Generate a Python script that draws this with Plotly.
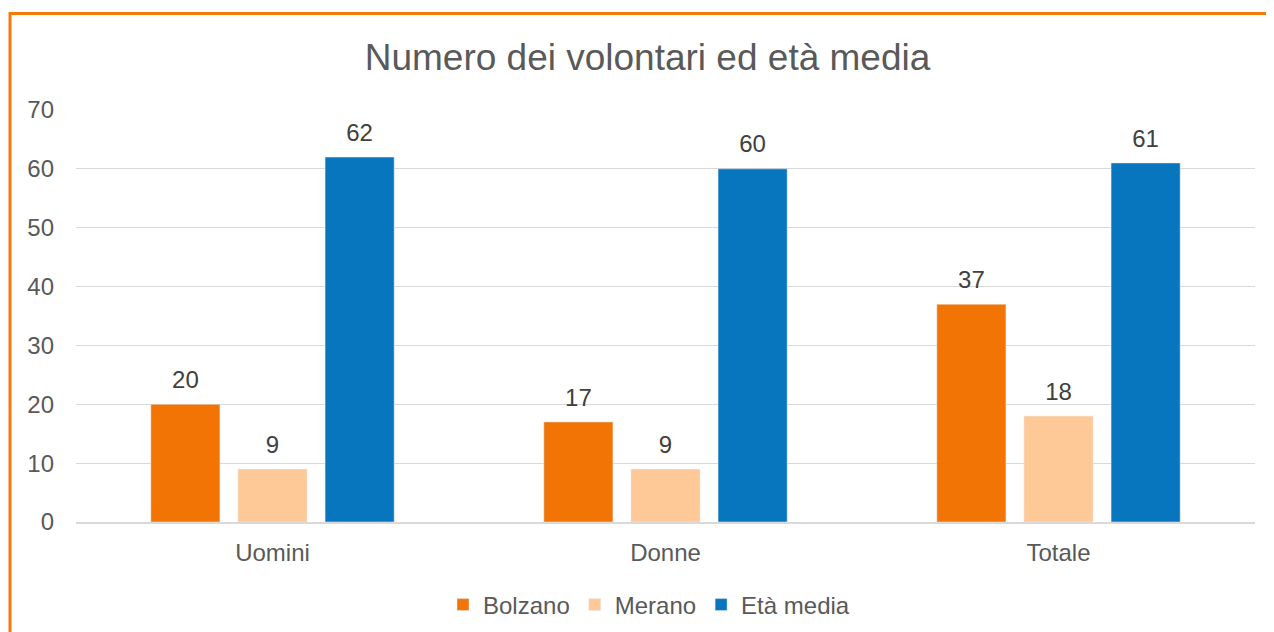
import plotly.graph_objects as go

categories = ["Uomini", "Donne", "Totale"]
bolzano = [20, 17, 37]
merano = [9, 9, 18]
eta_media = [62, 60, 61]

series = [
    ("Bolzano", bolzano, "#F27405"),
    ("Merano", merano, "#FFC897"),
    ("Età media", eta_media, "#0876BF"),
]

fig = go.Figure()
for name, vals, color in series:
    fig.add_trace(go.Bar(
        x=categories,
        y=vals,
        name=name,
        marker_color=color,
        offsetgroup=name,
    ))
    # value labels, placed by an invisible marker so the gap above the bar matches
    fig.add_trace(go.Scatter(
        x=categories,
        y=vals,
        mode="markers+text",
        marker={'size': 15, 'opacity': 0},
        text=vals,
        textposition="top center",
        textfont={'size': 24, 'color': '#404040'},
        offsetgroup=name,
        showlegend=False,
        hoverinfo="skip",
        cliponaxis=False,
    ))

# page has an 8px body margin, so work in page pixels and shift
OFF = 8
W, H = 1274 - OFF, 632 - OFF
L, T = 76 - OFF, 110 - OFF
R = 1274 - 1255
B = H - (522 - OFF)
pw, ph = W - L - R, H - T - B

def px_x(x):
    return (x - OFF - L) / pw

def px_y(y):
    return (H - B - (y - OFF)) / ph

# orange frame, only left and top edges visible
fig.add_shape(type="rect", xref="paper", yref="paper",
              x0=px_x(10), x1=px_x(1300), y0=px_y(660), y1=px_y(13.5),
              line={'color': '#F57A0A', 'width': 3}, layer="below")

fig.update_layout(
    width=W, height=H,
    margin=dict(l=L, r=R, t=T, b=B, autoexpand=False),
    paper_bgcolor="white",
    plot_bgcolor="white",
    font={'family': "Liberation Sans, Arial, sans-serif", 'color': '#595959', 'size': 24},
    title={'text': "Numero dei volontari ed età media", 'x': (647.5 - OFF) / W, 'xanchor': 'center',
           'y': 1 - (57 - OFF) / H, 'yanchor': 'middle', 'font': {'size': 37, 'color': '#595959'}},
    barmode="group",
    bargap=0.335,
    bargroupgap=0.207,
    scattermode="group",
    scattergap=0.335,
    legend={'orientation': 'h', 'x': px_x(649), 'xanchor': 'center', 'y': px_y(605),
            'yanchor': 'middle', 'font': {'size': 24, 'color': '#595959'},
            'traceorder': 'normal'},
    xaxis=dict(showgrid=False, ticks="", showline=True, linecolor="#D9D9D9", linewidth=1.5,
               ticklabelstandoff=8),
    yaxis=dict(range=[0, 70], dtick=10, showgrid=True, gridcolor="#D9D9D9", gridwidth=1.3,
               zeroline=False, ticks="", ticklabelstandoff=21),
)

fig.write_html("out.html")
